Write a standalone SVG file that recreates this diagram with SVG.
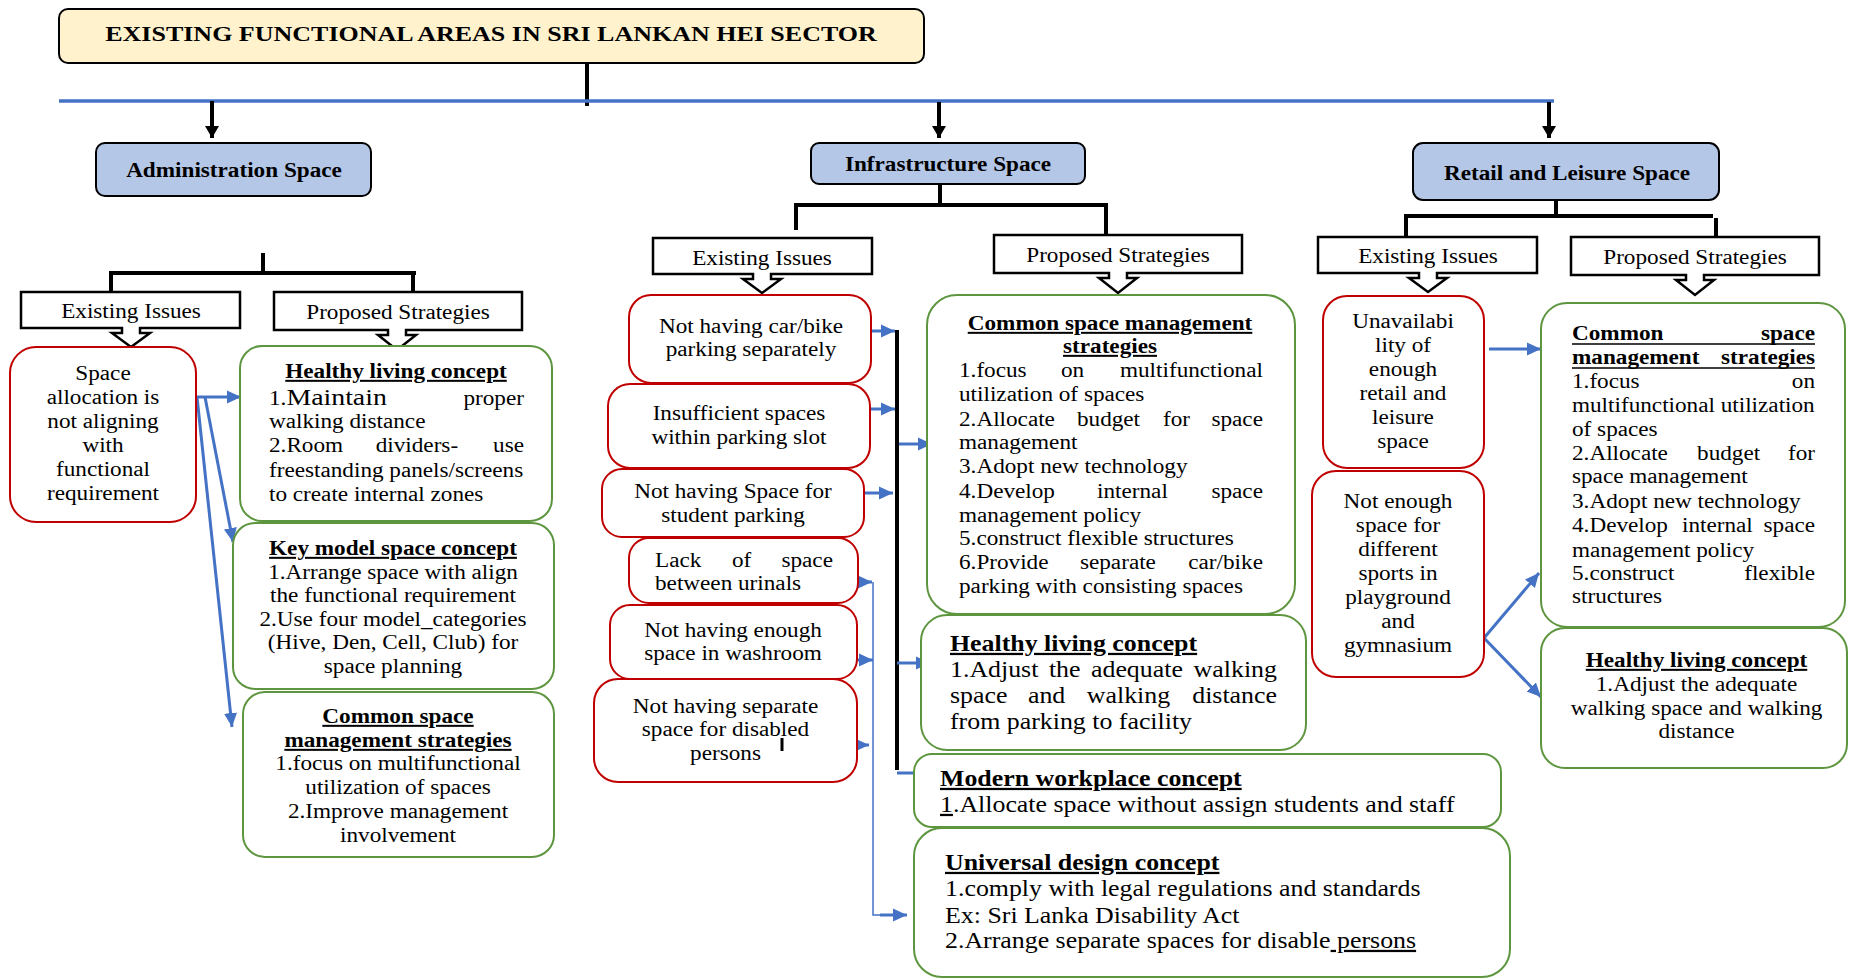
<svg xmlns="http://www.w3.org/2000/svg" width="1849" height="978" viewBox="0 0 1849 978">
<style>
.t{font-family:"Liberation Serif","Times New Roman",serif;font-size:20px;fill:#000}
.b{font-weight:bold}
.u{text-decoration:underline}
.L{font-size:22.5px}
.red{fill:#fff;stroke:#C00000;stroke-width:2}
.grn{fill:#fff;stroke:#5E9640;stroke-width:2}
.hdr{fill:#fff;stroke:#000;stroke-width:2.5}
.cat{fill:#B4C7E7;stroke:#000;stroke-width:2}
.blk{stroke:#000;stroke-width:4;fill:none}
.bl{stroke:#4472C4;stroke-width:3;fill:none}
.thin{stroke:#4472C4;stroke-width:1.5;fill:none}
</style>
<defs>
<marker id="ab" markerWidth="14" markerHeight="14" refX="12" refY="7" orient="auto" markerUnits="userSpaceOnUse"><path d="M0,0 L12,7 L0,14 z" fill="#000"/></marker>
<marker id="au" markerWidth="15" markerHeight="15" refX="14" refY="7.5" orient="auto" markerUnits="userSpaceOnUse"><path d="M0,1 L14,7.5 L0,14 z" fill="#4472C4"/></marker>
</defs>
<rect width="1849" height="978" fill="#fff"/>

<g id="title">
<rect x="59" y="9" width="865" height="54" rx="9" fill="#FFF2CC" stroke="#000" stroke-width="2"/>
<text class="t b" font-size="22" text-anchor="middle" transform="translate(491,41) scale(1.30,1)">EXISTING FUNCTIONAL AREAS IN SRI LANKAN HEI SECTOR</text>
</g>

<g id="connectors">
<path class="blk" stroke-width="3" d="M587,62 V106"/>
<path d="M59,101 H1554" stroke="#4472C4" stroke-width="3.5" fill="none"/>
<path class="blk" stroke-width="3" d="M212,101 V138" marker-end="url(#ab)"/>
<path class="blk" stroke-width="3" d="M939,102 V138" marker-end="url(#ab)"/>
<path class="blk" stroke-width="3" d="M1549,102 V138" marker-end="url(#ab)"/>
<path class="blk" d="M263,253 V273 M111,292 V273 H416 M413,273 V292"/>
<path class="blk" d="M940,184 V205 M796,230 V205 H1106 V235"/>
<path class="blk" d="M1556,200 V216 M1406,237 V216 H1713 M1716,218 V237"/>
<path class="bl" d="M196,397 H241" marker-end="url(#au)"/>
<path class="bl" d="M205,397 L233,542" marker-end="url(#au)"/>
<path class="bl" d="M197,397 L232,727" marker-end="url(#au)"/>
<path class="blk" stroke-width="4.5" d="M897,330 V770"/>
<path class="bl" d="M861,331 H895" marker-end="url(#au)"/>
<path class="bl" d="M863,409 H895" marker-end="url(#au)"/>
<path class="bl" d="M859,493 H893" marker-end="url(#au)"/>
<path class="bl" d="M835,582 H872" marker-end="url(#au)"/>
<path class="bl" d="M837,660 H873" marker-end="url(#au)"/>
<path class="bl" d="M833,745 H869" marker-end="url(#au)"/>
<path class="thin" d="M873,582 V915 H895"/>
<path class="bl" d="M880,915 H907" marker-end="url(#au)"/>
<path class="bl" d="M899,444 H932" marker-end="url(#au)"/>
<path class="bl" d="M897,663 H930" marker-end="url(#au)"/>
<path class="bl" d="M897,773 H933" marker-end="url(#au)"/>
<path class="bl" d="M1489,349 H1541" marker-end="url(#au)"/>
<path class="bl" d="M1484,638 L1539,573" marker-end="url(#au)"/>
<path class="bl" d="M1484,638 L1541,697" marker-end="url(#au)"/>
</g>

<g id="admin">
<rect class="cat" x="96" y="143" width="275" height="53" rx="9"/>
<text class="t b" text-anchor="middle" transform="translate(234,177) scale(1.16,1)">Administration Space</text>
</g>
<g id="infra">
<rect class="cat" x="811" y="143" width="274" height="41" rx="8"/>
<text class="t b" text-anchor="middle" transform="translate(948,171) scale(1.16,1)">Infrastructure Space</text>
</g>
<g id="retail">
<rect class="cat" x="1413" y="143" width="306" height="57" rx="10"/>
<text class="t b" text-anchor="middle" transform="translate(1567,180) scale(1.16,1)">Retail and Leisure Space</text>
</g>

<g id="admin-issues-hdr">
<path class="hdr" d="M21,292 H240 V328 H140 V333 H150 L131,347 L112,333 H122 V328 H21 Z"/>
<text class="t" text-anchor="middle" transform="translate(131,318) scale(1.16,1)">Existing Issues</text>
</g>
<g id="admin-strat-hdr">
<path class="hdr" d="M274,292 H522 V330 H406 V335 H416 L397,350 L378,335 H388 V330 H274 Z"/>
<text class="t" text-anchor="middle" transform="translate(398,319) scale(1.16,1)">Proposed Strategies</text>
</g>
<g id="infra-issues-hdr">
<path class="hdr" d="M653,238 H872 V274 H771 V279 H781 L762,293 L743,279 H753 V274 H653 Z"/>
<text class="t" text-anchor="middle" transform="translate(762,265) scale(1.16,1)">Existing Issues</text>
</g>
<g id="infra-strat-hdr">
<path class="hdr" d="M994,235 H1242 V273 H1127 V278 H1137 L1118,293 L1099,278 H1109 V273 H994 Z"/>
<text class="t" text-anchor="middle" transform="translate(1118,262) scale(1.16,1)">Proposed Strategies</text>
</g>
<g id="retail-issues-hdr">
<path class="hdr" d="M1318,237 H1537 V273 H1437 V278 H1447 L1428,292 L1409,278 H1419 V273 H1318 Z"/>
<text class="t" text-anchor="middle" transform="translate(1428,263) scale(1.16,1)">Existing Issues</text>
</g>
<g id="retail-strat-hdr">
<path class="hdr" d="M1571,237 H1819 V275 H1704 V280 H1714 L1695,295 L1676,280 H1686 V275 H1571 Z"/>
<text class="t" text-anchor="middle" transform="translate(1695,264) scale(1.16,1)">Proposed Strategies</text>
</g>

<g id="admin-issue">
<rect class="red" x="10" y="347" width="186" height="175" rx="26"/>
<g transform="translate(103,0) scale(1.16,1)" class="t" text-anchor="middle">
<text class="t" x="0" y="380">Space</text>
<text class="t" x="0" y="404">allocation is</text>
<text class="t" x="0" y="428">not aligning</text>
<text class="t" x="0" y="452">with</text>
<text class="t" x="0" y="476">functional</text>
<text class="t" x="0" y="500">requirement</text>
</g>
</g>

<g id="admin-healthy">
<rect class="grn" x="240" y="346" width="312" height="175" rx="22"/>
<g transform="translate(269,0) scale(1.16,1)">
<text class="t b u" x="109.5" y="378" text-anchor="middle">Healthy living concept</text>
<text class="t" x="0" y="405">1.<tspan font-size="24">Maintain</tspan></text>
<text class="t" x="219.8" y="405" text-anchor="end">proper</text>
<text class="t" x="0" y="428">walking distance</text>
<text class="t" x="0" y="452">2.Room</text>
<text class="t" x="92" y="452">dividers-</text>
<text class="t" x="219.8" y="452" text-anchor="end">use</text>
<text class="t" x="0" y="477">freestanding panels/screens</text>
<text class="t" x="0" y="501">to create internal zones</text>
</g>
</g>

<g id="admin-keymodel">
<rect class="grn" x="233" y="523" width="321" height="166" rx="22"/>
<g transform="translate(393,0) scale(1.16,1)">
<text class="t b u" x="0" y="555" text-anchor="middle">Key model space concept</text>
<text class="t" x="0" y="579" text-anchor="middle">1.Arrange space with align</text>
<text class="t" x="0" y="602" text-anchor="middle">the functional requirement</text>
<text class="t" x="0" y="626" text-anchor="middle">2.Use four model_categories</text>
<text class="t" x="0" y="649" text-anchor="middle">(Hive, Den, Cell, Club) for</text>
<text class="t" x="0" y="673" text-anchor="middle">space planning</text>
</g>
</g>

<g id="admin-common">
<rect class="grn" x="243" y="692" width="311" height="165" rx="22"/>
<g transform="translate(398,0) scale(1.16,1)">
<text class="t b u" x="0" y="723" text-anchor="middle">Common space</text>
<text class="t b u" x="0" y="747" text-anchor="middle">management strategies</text>
<text class="t" x="0" y="770" text-anchor="middle">1.focus on multifunctional</text>
<text class="t" x="0" y="794" text-anchor="middle">utilization of spaces</text>
<text class="t" x="0" y="818" text-anchor="middle">2.Improve management</text>
<text class="t" x="0" y="842" text-anchor="middle">involvement</text>
</g>
</g>

<g id="infra-issue-1">
<rect class="red" x="629" y="295" width="242" height="88" rx="22"/>
<g transform="translate(751,0) scale(1.16,1)"><text class="t" x="0" y="333" text-anchor="middle">Not having car/bike</text><text class="t" x="0" y="356" text-anchor="middle">parking separately</text></g>
</g>
<g id="infra-issue-2">
<rect class="red" x="608" y="384" width="262" height="84" rx="22"/>
<g transform="translate(739,0) scale(1.16,1)"><text class="t" x="0" y="420" text-anchor="middle">Insufficient spaces</text><text class="t" x="0" y="444" text-anchor="middle">within parking slot</text></g>
</g>
<g id="infra-issue-3">
<rect class="red" x="602" y="469" width="262" height="68" rx="20"/>
<g transform="translate(733,0) scale(1.16,1)"><text class="t" x="0" y="498" text-anchor="middle">Not having Space for</text><text class="t" x="0" y="522" text-anchor="middle">student parking</text></g>
</g>
<g id="infra-issue-4">
<rect class="red" x="629" y="538" width="229" height="65" rx="20"/>
<g transform="translate(655,0) scale(1.16,1)"><text class="t" x="0" y="567">Lack</text><text class="t" x="66.4" y="567">of</text><text class="t" x="153.4" y="567" text-anchor="end">space</text><text class="t" x="0" y="590">between urinals</text></g>
</g>
<g id="infra-issue-5">
<rect class="red" x="610" y="605" width="247" height="74" rx="20"/>
<g transform="translate(733,0) scale(1.16,1)"><text class="t" x="0" y="637" text-anchor="middle">Not having enough</text><text class="t" x="0" y="660" text-anchor="middle">space in washroom</text></g>
</g>
<g id="infra-issue-6">
<rect class="red" x="594" y="679" width="263" height="103" rx="24"/>
<g transform="translate(725.5,0) scale(1.16,1)"><text class="t" x="0" y="713" text-anchor="middle">Not having separate</text><text class="t" x="0" y="736" text-anchor="middle">space for disabled</text><text class="t" x="0" y="760" text-anchor="middle">persons</text></g>
<path d="M782,738 V751" stroke="#000" stroke-width="3"/>
</g>

<g id="infra-common">
<rect class="grn" x="927" y="295" width="368" height="319" rx="30"/>
<g transform="translate(959,0) scale(1.16,1)">
<text class="t b u" x="130.2" y="330" text-anchor="middle">Common space management</text>
<text class="t b u" x="130.2" y="353" text-anchor="middle">strategies</text>
<text class="t" x="0" y="377">1.focus</text><text class="t" x="87.9" y="377">on</text><text class="t" x="262" y="377" text-anchor="end">multifunctional</text>
<text class="t" x="0" y="401">utilization of spaces</text>
<text class="t" x="0" y="426">2.Allocate</text><text class="t" x="101.7" y="426">budget</text><text class="t" x="175.9" y="426">for</text><text class="t" x="262" y="426" text-anchor="end">space</text>
<text class="t" x="0" y="449">management</text>
<text class="t" x="0" y="473">3.Adopt new technology</text>
<text class="t" x="0" y="498">4.Develop</text><text class="t" x="119" y="498">internal</text><text class="t" x="262" y="498" text-anchor="end">space</text>
<text class="t" x="0" y="522">management policy</text>
<text class="t" x="0" y="545">5.construct flexible structures</text>
<text class="t" x="0" y="569">6.Provide</text><text class="t" x="104.3" y="569">separate</text><text class="t" x="262" y="569" text-anchor="end">car/bike</text>
<text class="t" x="0" y="593">parking with consisting spaces</text>
</g>
</g>

<g id="infra-healthy">
<rect class="grn" x="921" y="615" width="385" height="135" rx="26"/>
<g transform="translate(950,0) scale(1.15,1)">
<text class="t L b u" x="0" y="651">Healthy living concept</text>
<text class="t L" x="0" y="677">1.Adjust</text><text class="t L" x="86" y="677">the</text><text class="t L" x="122.6" y="677">adequate</text><text class="t L" x="284.3" y="677" text-anchor="end">walking</text>
<text class="t L" x="0" y="703">space</text><text class="t L" x="67.8" y="703">and</text><text class="t L" x="119" y="703">walking</text><text class="t L" x="284.3" y="703" text-anchor="end">distance</text>
<text class="t L" x="0" y="729">from parking to facility</text>
</g>
</g>

<g id="infra-modern">
<rect class="grn" x="914" y="754" width="587" height="73" rx="18"/>
<g transform="translate(940,0) scale(1.15,1)">
<text class="t L b u" x="0" y="786">Modern workplace concept</text>
<text class="t L" x="0" y="812"><tspan class="u">1</tspan>.Allocate space without assign students and staff</text>
</g>
</g>

<g id="infra-universal">
<rect class="grn" x="914" y="828" width="596" height="149" rx="28"/>
<g transform="translate(945,0) scale(1.15,1)">
<text class="t L b u" x="0" y="870">Universal design concept</text>
<text class="t L" x="0" y="896">1.comply with legal regulations and standards</text>
<text class="t L" x="0" y="923">Ex: Sri Lanka Disability Act</text>
<text class="t L" x="0" y="948">2.Arrange separate spaces for disable<tspan class="u"> persons</tspan></text>
</g>
</g>

<g id="retail-issue-1">
<rect class="red" x="1323" y="296" width="161" height="172" rx="24"/>
<g transform="translate(1403,0) scale(1.16,1)">
<text class="t" x="0" y="328" text-anchor="middle">Unavailabi</text>
<text class="t" x="0" y="352" text-anchor="middle">lity of</text>
<text class="t" x="0" y="376" text-anchor="middle">enough</text>
<text class="t" x="0" y="400" text-anchor="middle">retail and</text>
<text class="t" x="0" y="424" text-anchor="middle">leisure</text>
<text class="t" x="0" y="448" text-anchor="middle">space</text>
</g>
</g>
<g id="retail-issue-2">
<rect class="red" x="1312" y="471" width="172" height="206" rx="24"/>
<g transform="translate(1398,0) scale(1.16,1)">
<text class="t" x="0" y="508" text-anchor="middle">Not enough</text>
<text class="t" x="0" y="532" text-anchor="middle">space for</text>
<text class="t" x="0" y="556" text-anchor="middle">different</text>
<text class="t" x="0" y="580" text-anchor="middle">sports in</text>
<text class="t" x="0" y="604" text-anchor="middle">playground</text>
<text class="t" x="0" y="628" text-anchor="middle">and</text>
<text class="t" x="0" y="652" text-anchor="middle">gymnasium</text>
</g>
</g>

<g id="retail-common">
<rect class="grn" x="1541" y="303" width="304" height="324" rx="26"/>
<path d="M1572,344 H1815 M1572,368 H1815" stroke="#000" stroke-width="1.5"/>
<g transform="translate(1572,0) scale(1.16,1)">
<text class="t b" x="0" y="340">Common</text><text class="t b" x="209.5" y="340" text-anchor="end">space</text>
<text class="t b" x="0" y="364">management</text><text class="t b" x="209.5" y="364" text-anchor="end">strategies</text>
<text class="t" x="0" y="388">1.focus</text><text class="t" x="209.5" y="388" text-anchor="end">on</text>
<text class="t" x="0" y="412">multifunctional utilization</text>
<text class="t" x="0" y="436">of spaces</text>
<text class="t" x="0" y="460">2.Allocate</text><text class="t" x="107.8" y="460">budget</text><text class="t" x="209.5" y="460" text-anchor="end">for</text>
<text class="t" x="0" y="483">space management</text>
<text class="t" x="0" y="508">3.Adopt new technology</text>
<text class="t" x="0" y="532">4.Develop</text><text class="t" x="94.8" y="532">internal</text><text class="t" x="209.5" y="532" text-anchor="end">space</text>
<text class="t" x="0" y="557">management policy</text>
<text class="t" x="0" y="580">5.construct</text><text class="t" x="209.5" y="580" text-anchor="end">flexible</text>
<text class="t" x="0" y="603">structures</text>
</g>
</g>

<g id="retail-healthy">
<rect class="grn" x="1541" y="628" width="306" height="140" rx="24"/>
<g transform="translate(1696.5,0) scale(1.16,1)">
<text class="t b u" x="0" y="667" text-anchor="middle">Healthy living concept</text>
<text class="t" x="0" y="691" text-anchor="middle">1.Adjust the adequate</text>
<text class="t" x="0" y="715" text-anchor="middle">walking space and walking</text>
<text class="t" x="0" y="738" text-anchor="middle">distance</text>
</g>
</g>
</svg>
